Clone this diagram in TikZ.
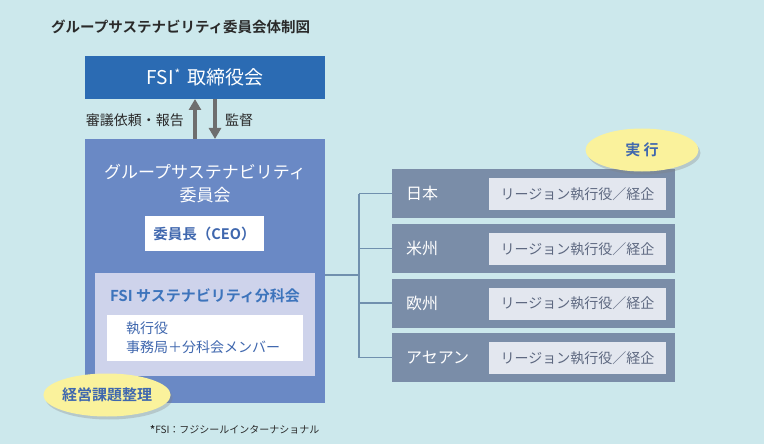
\documentclass[tikz,border=0pt]{standalone}
\usepackage{fontspec}
\setmainfont{Noto Sans CJK JP}[BoldFont=* Bold]
\usetikzlibrary{arrows.meta,shapes.geometric,shadows}
\definecolor{bg}{HTML}{CCE8EC}
\definecolor{fsiblue}{HTML}{2B6BB3}
\definecolor{arrgray}{HTML}{6E6E6E}
\definecolor{combox}{HTML}{6A89C5}
\definecolor{lav}{HTML}{CED3EB}
\definecolor{bluetxt}{HTML}{3F67AE}
\definecolor{bluetxt2}{HTML}{3D74BC}
\definecolor{yel}{HTML}{FAF29C}
\definecolor{regbox}{HTML}{7A8DA8}
\definecolor{reginner}{HTML}{E3E7EF}
\definecolor{regtxt}{HTML}{5D6880}
\definecolor{conncol}{HTML}{7090AE}
\definecolor{darktxt}{HTML}{2A2A2A}
\tikzset{
  boxnw/.style={anchor=north west, inner sep=0pt, outer sep=0pt},
  arr/.style={draw=arrgray, line width=4pt, -{Triangle[width=12pt,length=11pt]}},
  conn/.style={draw=conncol, line width=1.5pt},
  bubble/.style={ellipse, fill=yel, minimum width=113pt, minimum height=43pt, inner sep=0pt,
     drop shadow={opacity=0.3, shadow xshift=2pt, shadow yshift=-3pt}, text=bluetxt, font=\fontsize{15}{15}\selectfont\bfseries},
  regionbox/.style={boxnw, fill=regbox, minimum width=283pt, minimum height=49pt},
  innerbox/.style={inner sep=0pt, fill=reginner, minimum width=177pt, minimum height=32pt, text=regtxt, font=\fontsize{14}{14}\selectfont},
  reglabel/.style={anchor=west, text=white, font=\fontsize{16}{16}\selectfont, inner sep=0pt}
}
\begin{document}
\begin{tikzpicture}[x=1pt,y=-1pt]
\useasboundingbox[fill=bg] (0,0) rectangle (764,444);
% title
\node[anchor=west, inner sep=0pt, text=darktxt, font=\fontsize{14.5}{14.5}\selectfont\bfseries] (title) at (51,27) {グループサステナビリティ委員会体制図};
% board
\node[boxnw, fill=fsiblue, minimum width=240pt, minimum height=43pt] (fsi) at (85,56) {};
\node[text=white, font=\fontsize{19}{19}\selectfont, inner sep=0pt] (fsit) at (fsi.center) {FSI\kern1pt{\fontsize{12}{12}\selectfont\raisebox{6pt}{*}}\kern7pt 取締役会};
% committee
\node[boxnw, fill=combox, minimum width=240pt, minimum height=264pt] (com) at (85,139) {};
\draw[arr] ([xshift=-10pt]com.north) -- ([xshift=-10pt]fsi.south);
\draw[arr] ([xshift=10pt]fsi.south) -- ([xshift=10pt]com.north);
\node[anchor=east, inner sep=0pt, text=darktxt, font=\fontsize{14}{14}\selectfont] (lab1) at (184,120) {審議依頼・報告};
\node[anchor=west, inner sep=0pt, text=darktxt, font=\fontsize{14}{14}\selectfont] (lab2) at (225,120) {監督};
\node[text=white, align=center, font=\fontsize{17}{23}\selectfont, inner sep=0pt] (comt) at (205,184) {グループサステナビリティ\\委員会};
\node[boxnw, fill=white, minimum width=119pt, minimum height=35pt] (ceo) at (145,216) {};
\node[text=bluetxt, font=\fontsize{14.5}{14.5}\selectfont\bfseries, inner sep=0pt] (ceot) at (ceo.center) {委員長（CEO）};
% subcommittee
\node[boxnw, fill=lav, minimum width=220pt, minimum height=103pt] (sub) at (95,273) {};
\node[text=bluetxt2, font=\fontsize{15}{15}\selectfont\bfseries, inner sep=0pt] (subt) at (205,296) {FSI サステナビリティ分科会};
\node[boxnw, fill=white, minimum width=196pt, minimum height=46pt] (mem) at (107,315) {};
\node[anchor=west, align=left, text=bluetxt, font=\fontsize{14}{19}\selectfont, inner sep=0pt] (memt) at (126,338) {執行役\\事務局＋分科会メンバー};
\node[bubble] (keiei) at (107,395) {経営課題整理};
\node[anchor=west, inner sep=0pt, text=darktxt, font=\fontsize{10}{10}\selectfont] (foot) at (150,430) {{\bfseries *}FSI：フジシールインターナショナル};
% regions
\node[regionbox] (r1) at (392,169) {};
\node[regionbox] (r2) at (392,224) {};
\node[regionbox] (r3) at (392,278.5) {};
\node[regionbox] (r4) at (392,333) {};
\foreach \r/\lab in {r1/日本, r2/米州, r3/欧州, r4/アセアン}{
  \node[reglabel] (\r l) at ([xshift=14pt]\r.west) {\lab};
  \node[innerbox] (\r i) at ([xshift=185.5pt,yshift=-0.5pt]\r.west) {リージョン執行役／経企};
}
\coordinate (j) at (359,275);
\draw[conn] (j -| com.east) -- (j);
\draw[conn] (j |- r1.west) -- (j |- r4.west);
\foreach \r in {r1,r2,r3,r4}{
  \draw[conn] (j |- \r.west) -- (\r.west);
}
\node[bubble] (jikko) at (642,150) {実 行};
\end{tikzpicture}
\end{document}
